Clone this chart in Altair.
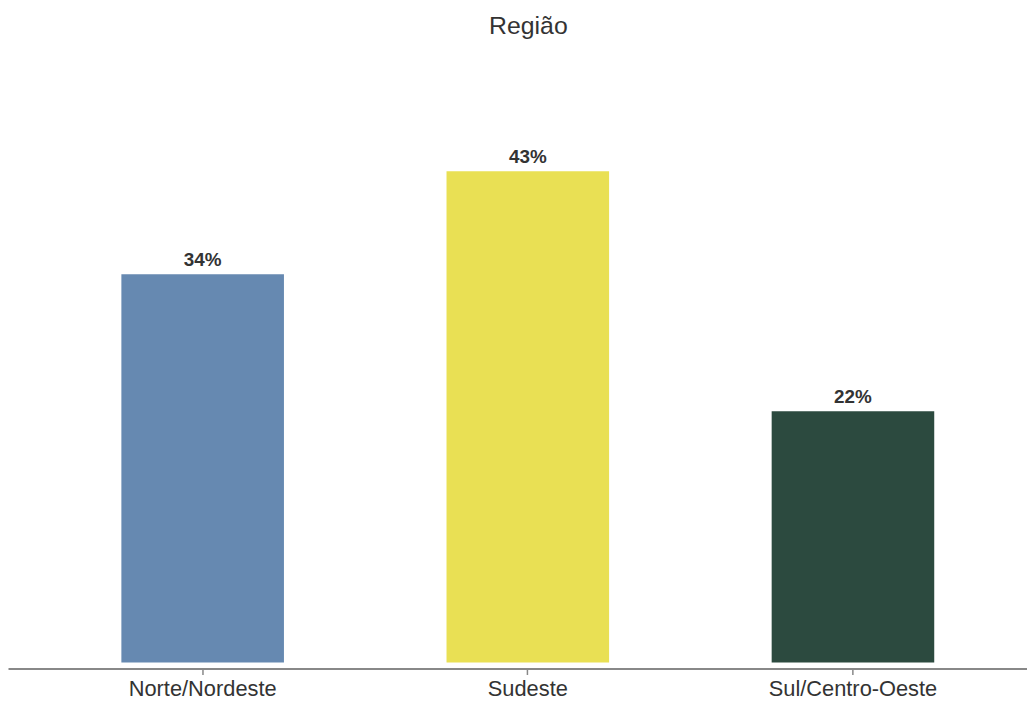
import altair as alt
import pandas as pd

categories = ["Norte/Nordeste", "Sudeste", "Sul/Centro-Oeste"]
values = [34, 43, 22]
labels = ["34%", "43%", "22%"]
colors = ["#6689B1", "#E9E054", "#2C4A3F"]

df = pd.DataFrame({"regiao": categories, "valor": values, "rotulo": labels})

x = alt.X("regiao:N", sort=categories, title=None,
          scale=alt.Scale(paddingInner=0.5, paddingOuter=0.317, align=0.55),
          axis=alt.Axis(labelAngle=0, labelFontSize=22, labelColor="#333333",
                        labelFont="Liberation Sans", labelPadding=4,
                        domainColor="#888888", domainWidth=2,
                        tickColor="#888888", tickWidth=1.5, tickSize=6,
                        grid=False))
y = alt.Y("valor:Q", title=None,
          scale=alt.Scale(domain=[-0.52, 53.15], nice=False, zero=False),
          axis=None)

bars = alt.Chart(df).mark_bar().encode(
    x=x, y=y, y2=alt.datum(0),
    color=alt.Color("regiao:N", scale=alt.Scale(domain=categories, range=colors), legend=None),
)

text = alt.Chart(df).mark_text(font="Liberation Sans", fontSize=19, fontWeight="bold",
                               color="#333333", baseline="alphabetic", dy=-8).encode(
    x=alt.X("regiao:N", sort=categories), y="valor:Q", text="rotulo:N")

chart = (bars + text).properties(
    width=1027, height=618,
    background="white",
    title=alt.TitleParams("Região", fontSize=25, font="Liberation Sans", fontWeight="normal",
                          color="#333333", anchor="middle", dx=11, offset=17),
    padding={"left": 0, "top": 45, "right": 0, "bottom": 30},
    autosize="none",
).configure_view(strokeWidth=0, stroke="transparent")

chart.save("out.html", embed_options={"renderer": "svg", "actions": False})
